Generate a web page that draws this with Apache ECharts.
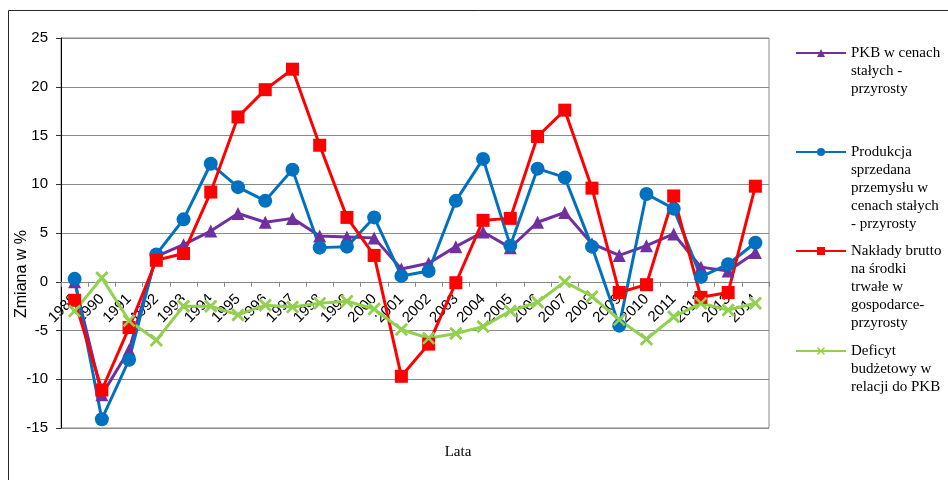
<!DOCTYPE html>
<html>
<head>
<meta charset="utf-8">
<script src="https://cdn.jsdelivr.net/npm/echarts@6/dist/echarts.min.js"></script>
<style>
  html, body { margin: 0; padding: 0; background: #fff; }
  #chart { width: 948px; height: 480px; }
</style>
</head>
<body>
<div id="chart"></div>
<script>
// Years on the category axis
var years = ['1989','1990','1991','1992','1993','1994','1995','1996','1997','1998','1999','2000','2001',
             '2002','2003','2004','2005','2006','2007','2008','2009','2010','2011','2012','2013','2014'];

// Series names (legend text, wrapped as in the legend box)
var nameGdp = 'PKB w cenach\nstałych -\nprzyrosty';
var nameIndustry = 'Produkcja\nsprzedana\nprzemysłu w\ncenach stałych\n- przyrosty';
var nameInvest = 'Nakłady brutto\nna środki\ntrwałe w\ngospodarce-\nprzyrosty';
var nameDeficit = 'Deficyt\nbudżetowy w\nrelacji do PKB';

// Year-on-year changes, %
var gdp = [0.0, -11.6, -7.0, 2.6, 3.8, 5.2, 7.0, 6.1, 6.5, 4.7, 4.6, 4.5, 1.3,
           1.9, 3.6, 5.1, 3.5, 6.1, 7.1, 3.9, 2.7, 3.7, 4.9, 1.5, 1.1, 3.0];
var industry = [0.3, -14.1, -8.0, 2.8, 6.4, 12.1, 9.7, 8.3, 11.5, 3.5, 3.6, 6.6, 0.6,
                1.1, 8.3, 12.6, 3.7, 11.6, 10.7, 3.6, -4.5, 9.0, 7.5, 0.5, 1.8, 4.0];
var investment = [-1.9, -11.1, -4.7, 2.2, 2.9, 9.2, 16.9, 19.7, 21.8, 14.0, 6.6, 2.7, -9.7,
                  -6.4, -0.1, 6.3, 6.5, 14.9, 17.6, 9.6, -1.1, -0.3, 8.8, -1.6, -1.1, 9.8];
var deficit = [-3.0, 0.4, -4.0, -6.0, -2.5, -2.5, -3.4, -2.4, -2.6, -2.2, -2.0, -2.8, -4.9,
               -5.8, -5.3, -4.6, -3.0, -2.1, 0.0, -1.5, -3.9, -5.9, -3.6, -2.2, -2.9, -2.2];

// Y axis range
var yMin = -15, yMax = 25, yStep = 5;

// Plot area inside the 948x480 canvas
var gridTop = 38, gridBottom = 52, gridLeft = 61, gridRight = 179;
var plotHeight = 480 - gridTop - gridBottom;
// the category axis crosses the value axis at 0
var zeroOffset = -plotHeight * (0 - yMin) / (yMax - yMin);

var xMark = 'path://M0,1.4L1.4,0L5,3.6L8.6,0L10,1.4L6.4,5L10,8.6L8.6,10L5,6.4L1.4,10L0,8.6L3.6,5Z';

var sansFont = 'Liberation Sans';
var serifFont = 'Liberation Serif';
var legendLine = 18;
var legendIconHeight = 10;

// The legend text is centred on its icon; leading blank lines put the
// first line of text level with the icon.
function legendLabel(name) {
  var n = name.split('\n').length;
  return new Array(n).join('\n') + name;
}

function legendAt(name, iconCenterY) {
  var n = name.split('\n').length;
  var halfText = (2 * n - 1) * legendLine / 2;
  return {
    orient: 'vertical',
    left: 795,
    top: iconCenterY - halfText,
    padding: 0,
    itemWidth: 50,
    itemHeight: legendIconHeight,
    selectedMode: false,
    data: [name],
    formatter: legendLabel,
    textStyle: {
      fontFamily: serifFont,
      fontSize: 15,
      lineHeight: legendLine,
      color: '#000'
    }
  };
}

var chart = echarts.init(document.getElementById('chart'), null, { renderer: 'canvas' });

chart.setOption({
  animation: false,
  backgroundColor: '#fff',
  grid: {
    left: gridLeft, right: gridRight, top: gridTop, bottom: gridBottom,
    show: true, borderColor: '#898989', borderWidth: 1,
    outerBoundsMode: 'none'
  },
  legend: [
    legendAt(nameGdp, 53),
    legendAt(nameIndustry, 152),
    legendAt(nameInvest, 251),
    legendAt(nameDeficit, 351)
  ],
  xAxis: {
    type: 'category',
    data: years,
    boundaryGap: true,
    position: 'bottom',
    offset: zeroOffset,
    axisLine: { onZero: false, lineStyle: { color: '#868686', width: 1 } },
    axisTick: { show: true, length: 5, lineStyle: { color: '#868686' } },
    axisLabel: {
      interval: 0, rotate: 45, margin: 15,
      fontFamily: sansFont, fontSize: 15, color: '#000'
    },
    splitLine: { show: false }
  },
  yAxis: {
    type: 'value',
    min: yMin, max: yMax, interval: yStep,
    axisLine: { show: true, lineStyle: { color: '#000', width: 1 } },
    axisTick: { show: true, length: 5, lineStyle: { color: '#333' } },
    axisLabel: { margin: 13, fontFamily: sansFont, fontSize: 15, color: '#000' },
    splitLine: { show: true, lineStyle: { color: '#898989', width: 1 } }
  },
  graphic: [
    {
      type: 'rect', z: -10, silent: true,
      shape: { x: 8.5, y: 10.5, width: 1000, height: 1000 },
      style: { fill: 'none', stroke: '#262626', lineWidth: 1 }
    },
    {
      type: 'text', x: 22, y: 274, rotation: Math.PI / 2, silent: true,
      style: {
        text: 'Zmiana w %', font: '16px "Liberation Sans"', fill: '#000',
        align: 'center', verticalAlign: 'middle'
      }
    },
    {
      type: 'text', x: 458, y: 452, silent: true,
      style: {
        text: 'Lata', font: '15px "Liberation Serif"', fill: '#000',
        align: 'center', verticalAlign: 'middle'
      }
    }
  ],
  series: [
    {
      name: nameGdp, type: 'line', data: gdp,
      symbol: 'triangle', symbolSize: 13,
      itemStyle: { color: '#7030A0' },
      lineStyle: { color: '#7030A0', width: 3 }
    },
    {
      name: nameIndustry, type: 'line', data: industry,
      symbol: 'circle', symbolSize: 14,
      itemStyle: { color: '#0070C0' },
      lineStyle: { color: '#0070C0', width: 3 }
    },
    {
      name: nameInvest, type: 'line', data: investment,
      symbol: 'rect', symbolSize: 13,
      itemStyle: { color: '#FF0000' },
      lineStyle: { color: '#FF0000', width: 3 }
    },
    {
      name: nameDeficit, type: 'line', data: deficit,
      symbol: xMark, symbolSize: 13,
      itemStyle: { color: '#92D050' },
      lineStyle: { color: '#92D050', width: 3 }
    },
    // white backing behind the deficit markers
    {
      type: 'scatter', data: deficit, silent: true,
      symbol: 'rect', symbolSize: 12,
      itemStyle: { color: '#fff', opacity: 1 }
    },
    // deficit markers on top of the backing
    {
      type: 'scatter', data: deficit, silent: true,
      symbol: xMark, symbolSize: 13,
      itemStyle: { color: '#92D050', opacity: 1 }
    }
  ]
});
</script>
</body>
</html>
